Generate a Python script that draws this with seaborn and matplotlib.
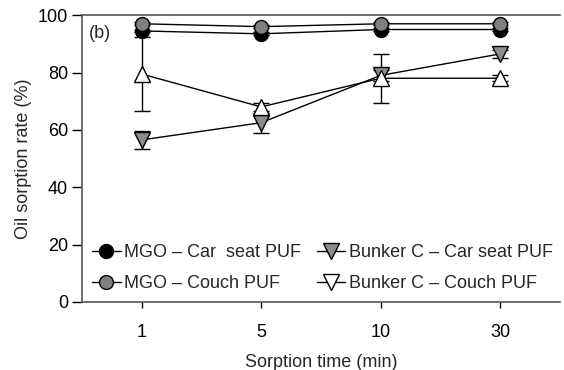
import matplotlib
matplotlib.use("Agg")
import matplotlib.pyplot as plt
import seaborn as sns
import pandas as pd
import numpy as np
from matplotlib.lines import Line2D

times = ["1", "5", "10", "30"]
mgo_car = [94.5, 93.5, 95.0, 95.0]
mgo_car_err = [0.5, 0.5, 0.5, 0.5]
mgo_couch = [97.0, 96.0, 97.0, 97.0]
mgo_couch_err = [0.5, 0.5, 0.5, 0.5]
bc_car = [56.5, 62.5, 79.0, 86.5]
bc_car_err = [3.0, 3.5, 2.0, 1.5]
bc_couch = [79.5, 68.0, 78.0, 78.0]
bc_couch_err = [13.0, 1.5, 8.5, 1.0]

labels = ["MGO \u2013 Car  seat PUF", "MGO \u2013 Couch PUF",
          "Bunker C \u2013 Car seat PUF", "Bunker C \u2013 Couch PUF"]

sns.set_style("ticks")
plt.rcParams['font.family'] = ['Liberation Sans', 'DejaVu Sans']

fig = plt.figure(figsize=(5.64, 3.70), dpi=100)
ax = fig.add_axes([0.145, 0.184, 0.848, 0.775])

pos = np.arange(len(times))
series = [
    (mgo_car, mgo_car_err, "o", "black", 10),
    (mgo_couch, mgo_couch_err, "o", "#808080", 10),
    (bc_car, bc_car_err, "v", "#8c8c8c", 12),
    (bc_couch, bc_couch_err, "^", "white", 12),
]
rows = []
for lab, (vals, errs, m, c, s) in zip(labels, series):
    for p, v in zip(pos, vals):
        rows.append({"pos": p, "val": v, "series": lab})
df = pd.DataFrame(rows)

for (vals, errs, m, c, s) in series:
    ax.errorbar(pos, vals, yerr=errs, fmt="none", ecolor="black",
                elinewidth=1, capsize=6, capthick=1, zorder=1)

for lab, (vals, errs, m, c, s) in zip(labels, series):
    sub = df[df.series == lab]
    sns.lineplot(data=sub, x="pos", y="val", ax=ax, color="black", lw=1,
                 marker=m, markersize=s, markerfacecolor=c,
                 markeredgecolor="black", markeredgewidth=1,
                 legend=False, zorder=3)

ax.set_xlim(-0.5, 3.5)
ax.set_ylim(0, 100)
ax.set_xticks(pos)
ax.set_xticklabels(times)
ax.set_yticks([0, 20, 40, 60, 80, 100])
ax.set_xlabel("Sorption time (min)", fontsize=13)
ax.set_ylabel("Oil sorption rate (%)", fontsize=13)
ax.tick_params(axis="both", labelsize=13, colors="black", width=1)
ax.tick_params(axis="y", length=7, direction="out", pad=3)
ax.tick_params(axis="x", length=4, direction="out", pad=12)
for side in ["left", "top", "bottom"]:
    ax.spines[side].set_color("#555555")
    ax.spines[side].set_linewidth(1.2)
ax.spines["right"].set_visible(False)
ax.spines["top"].set_visible(True)
ax.xaxis.labelpad = 9
ax.yaxis.labelpad = 4

ax.text(0.015, 0.965, "(b)", transform=ax.transAxes, fontsize=13, va="top", ha="left")

handles = [
    Line2D([], [], color="black", lw=1, marker="o", markersize=10, markerfacecolor="black", markeredgecolor="black"),
    Line2D([], [], color="black", lw=1, marker="o", markersize=10, markerfacecolor="#808080", markeredgecolor="black"),
    Line2D([], [], color="black", lw=1, marker="v", markersize=11, markerfacecolor="#8c8c8c", markeredgecolor="black"),
    Line2D([], [], color="black", lw=1, marker="v", markersize=11, markerfacecolor="white", markeredgecolor="black"),
]
ax.legend(handles, labels, ncol=2, frameon=False, loc="lower left",
          bbox_to_anchor=(0.0, 0.0), fontsize=13, handlelength=1.6,
          handletextpad=0.2, columnspacing=0.85, labelspacing=0.75,
          borderaxespad=0.25, borderpad=0.3)

fig.savefig("out.png", dpi=100)
